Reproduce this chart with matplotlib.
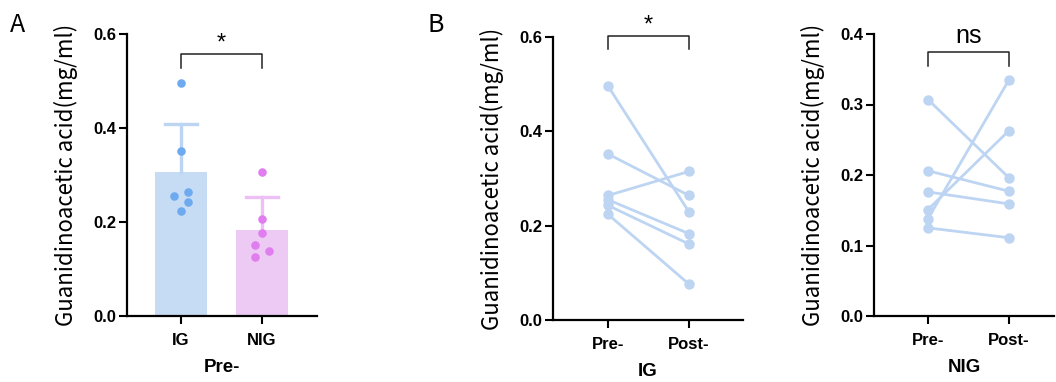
import numpy as np
import matplotlib
matplotlib.use("Agg")
import matplotlib.pyplot as plt

# ---------------- data ----------------
groups = ["IG", "NIG"]
ig_pre = [0.496, 0.352, 0.264, 0.255, 0.243, 0.224]
nig_pre = [0.307, 0.206, 0.176, 0.151, 0.138, 0.125]
bar_mean = [0.306, 0.184]
bar_sd = [0.103, 0.069]
# small horizontal jitter offsets of the dots
ig_jit = [0.0, 0.0, 0.27, -0.27, 0.27, 0.0]
nig_jit = [0.0, 0.0, 0.0, -0.27, 0.27, -0.27]

time_labels = ["Pre-", "Post-"]
ig_post = [0.229, 0.264, 0.315, 0.183, 0.161, 0.076]
nig_post = [0.196, 0.177, 0.159, 0.263, 0.335, 0.111]

BLUE_BAR = "#C6DCF4"
BLUE_ERR = "#BCD5F3"
BLUE_PT = "#6EAAF0"
PINK_BAR = "#EDCAF4"
PINK_ERR = "#ECC0F5"
PINK_PT = "#E07EF0"
LINE_C = "#BDD5F2"

tick_font = {"family": "Liberation Sans", "weight": "bold"}
lab_font = ["Noto Sans CJK SC", "DejaVu Sans"]

W, H = 1056, 382
fig = plt.figure(figsize=(W / 100, H / 100), dpi=100)


def make_ax(l, r, t, b):
    return fig.add_axes([l / W, (H - b) / H, (r - l) / W, (b - t) / H])


def style(ax, ymax, step, xlim, xt, xlabel):
    ax.set_ylim(0, ymax)
    ax.set_xlim(*xlim)
    yt = np.round(np.arange(0, ymax + 1e-9, step), 2)
    ax.set_yticks(yt)
    ax.set_yticklabels([f"{v:.1f}" for v in yt], fontdict=tick_font, fontsize=12)
    ax.set_xticks(range(len(xt)))
    ax.set_xticklabels(xt, fontdict=tick_font, fontsize=12)
    ax.set_xlabel(xlabel, fontdict=tick_font, fontsize=13.5, labelpad=8)
    ax.set_ylabel("Guanidinoacetic acid(mg/ml)", family=lab_font, fontsize=16, labelpad=11)
    for s in ["top", "right"]:
        ax.spines[s].set_visible(False)
    for s in ["left", "bottom"]:
        ax.spines[s].set_linewidth(1.6)
    ax.tick_params(axis="y", width=1.5, length=6, pad=2)
    ax.tick_params(axis="x", width=1.5, length=6, pad=6)


def bracket(ax, x0, x1, ylo, yhi, text, ty, fs):
    ax.plot([x0, x0, x1, x1], [ylo, yhi, yhi, ylo], color="#222222", lw=1.1, clip_on=False)
    ax.text((x0 + x1) / 2, ty, text, ha="center", va="center", fontsize=fs,
            family="Liberation Sans", clip_on=False)


# -------- panel A --------
axA = make_ax(127, 317, 34, 316)
x = np.arange(len(groups))
axA.bar(x, bar_mean, width=0.65, color=[BLUE_BAR, PINK_BAR], zorder=1)
for i, c in enumerate([BLUE_ERR, PINK_ERR]):
    top = bar_mean[i] + bar_sd[i]
    axA.plot([x[i], x[i]], [bar_mean[i], top], color=c, lw=2.4, zorder=2)
    axA.plot([x[i] - 0.2, x[i] + 0.2], [top, top], color=c, lw=2.4, zorder=2)
jit_scale = 0.33
axA.scatter(np.array(ig_jit) * jit_scale + 0, ig_pre, s=38, color=BLUE_PT, zorder=3, linewidths=0)
axA.scatter(np.array(nig_jit) * jit_scale + 1, nig_pre, s=38, color=PINK_PT, zorder=3, linewidths=0)
style(axA, 0.6, 0.2, (-0.667, 1.679), groups, "Pre-")
bracket(axA, 0, 1, 0.527, 0.557, "*", 0.58, 17)

# -------- panel B --------
axB = make_ax(553, 743, 37, 320)
for a, b in zip(ig_pre, ig_post):
    axB.plot([0, 1], [a, b], color=LINE_C, lw=2, marker="o", ms=6.5, mec=LINE_C, mfc=LINE_C)
style(axB, 0.6, 0.2, (-0.679, 1.667), time_labels, "IG")
bracket(axB, 0, 1, 0.575, 0.603, "*", 0.625, 17)

# -------- panel C --------
axC = make_ax(874, 1054, 34, 316)
for a, b in zip(nig_pre, nig_post):
    axC.plot([0, 1], [a, b], color=LINE_C, lw=2, marker="o", ms=6.5, mec=LINE_C, mfc=LINE_C)
style(axC, 0.4, 0.1, (-0.667, 1.556), time_labels, "NIG")
bracket(axC, 0, 1, 0.355, 0.375, "ns", 0.397, 18)

fig.text(10 / W, 1 - 25 / H, "A", family=lab_font, fontsize=18, va="center", ha="left")
fig.text(428 / W, 1 - 25 / H, "B", family=lab_font, fontsize=18, va="center", ha="left")

fig.savefig("out.png", dpi=100)
